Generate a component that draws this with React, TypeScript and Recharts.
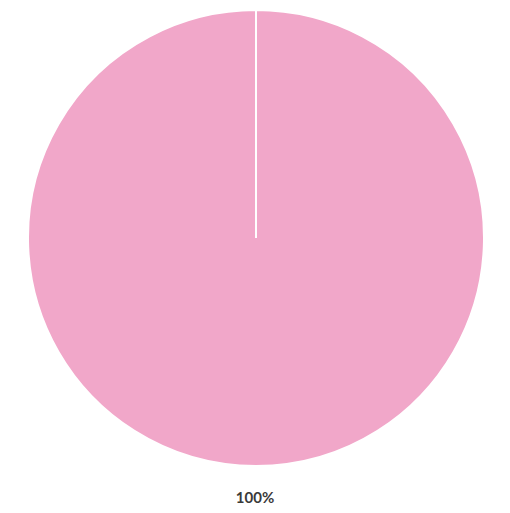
import React from "react";
import { PieChart, Pie, Cell } from "recharts";

const categories = ["Total"];
const values = [100];
const colors = ["#F1A7C9"];

const data = categories.map((name, i) => ({ name, value: values[i] }));

const RAD = Math.PI / 180;

const renderLabel = (props: any) => {
  const { cx, cy, midAngle, outerRadius, percent } = props;
  const r = outerRadius + 31;
  const x = cx + r * Math.cos(-midAngle * RAD);
  const y = cy + r * Math.sin(-midAngle * RAD);
  return (
    <text
      x={x - 1}
      y={y}
      textAnchor="middle"
      dominantBaseline="central"
      fill="#3a3a3a"
      fontFamily="Lato, sans-serif"
      fontWeight={700}
      fontSize={15}
    >
      {`${Math.round(percent * 100)}%`}
    </text>
  );
};

export default function App() {
  return (
    <div style={{ position: "absolute", left: 0, top: 0, background: "#fff" }}>
      <PieChart width={510} height={513} margin={{ top: 0, right: 0, bottom: 0, left: 0 }}>
        <Pie
          data={data}
          dataKey="value"
          nameKey="name"
          cx={256}
          cy={238}
          outerRadius={228}
          startAngle={90}
          endAngle={-270}
          stroke="#ffffff"
          strokeWidth={2}
          label={renderLabel}
          labelLine={false}
          isAnimationActive={false}
        >
          {data.map((d, i) => (
            <Cell key={d.name} fill={colors[i]} />
          ))}
        </Pie>
      </PieChart>
    </div>
  );
}
